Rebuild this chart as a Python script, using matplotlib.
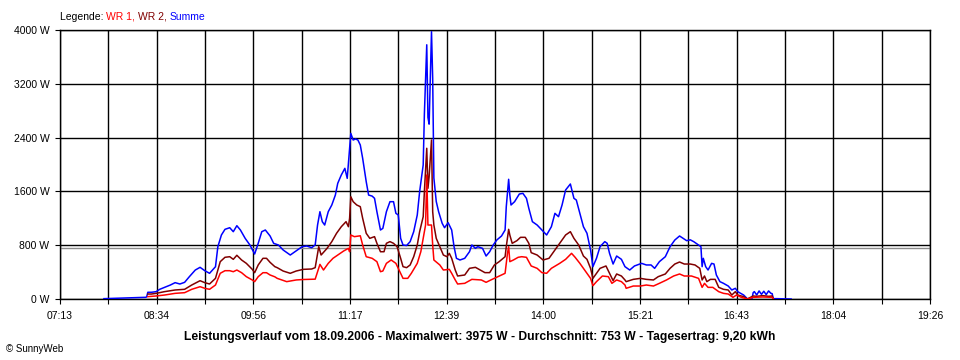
import matplotlib
matplotlib.use("Agg")
import matplotlib.pyplot as plt
import numpy as np

plt.rcParams['font.family'] = ['Liberation Sans', 'DejaVu Sans']

# ---------------- data ----------------
x_start = "07:13"
x_end = "19:26"
x_labels = ["07:13", "08:34", "09:56", "11:17", "12:39", "14:00", "15:21", "16:43", "18:04", "19:26"]
y_ticks = [0, 800, 1600, 2400, 3200, 4000]
average_w = 753

sum_times = [
    "07:50", "07:59", "08:08", "08:16", "08:25", "08:26", "08:27", "08:30", "08:34", "08:37",
    "08:41", "08:46", "08:50", "08:54", "08:58", "09:02", "09:07", "09:11", "09:15", "09:19",
    "09:24", "09:26", "09:29", "09:32", "09:36", "09:39", "09:42", "09:45", "09:49", "09:53",
    "09:57", "10:00", "10:03", "10:06", "10:10", "10:13", "10:17", "10:21", "10:27", "10:31",
    "10:37", "10:41", "10:45", "10:48", "10:50", "10:52", "10:54", "10:56", "10:59", "11:02",
    "11:05", "11:07", "11:10", "11:13", "11:15", "11:16", "11:18", "11:20", "11:22", "11:24",
    "11:26", "11:28", "11:31", "11:33", "11:36", "11:38", "11:40", "11:43", "11:45", "11:48",
    "11:51", "11:54", "11:56", "11:58", "12:00", "12:02", "12:05", "12:08", "12:11", "12:14",
    "12:16", "12:19", "12:20", "12:22", "12:23", "12:24", "12:26", "12:27", "12:28", "12:30",
    "12:32", "12:35", "12:37", "12:40", "12:43", "12:45", "12:47", "12:50", "12:54", "12:58",
    "13:00", "13:03", "13:05", "13:09", "13:12", "13:15", "13:18", "13:21", "13:25", "13:28",
    "13:29", "13:31", "13:32", "13:33", "13:36", "13:40", "13:43", "13:46", "13:48", "13:51",
    "13:55", "13:59", "14:03", "14:07", "14:10", "14:13", "14:16", "14:19", "14:23", "14:26",
    "14:28", "14:31", "14:34", "14:37", "14:40", "14:42", "14:45", "14:48", "14:52", "14:54",
    "14:56", "14:59", "15:02", "15:06", "15:09", "15:13", "15:17", "15:23", "15:27", "15:31",
    "15:34", "15:38", "15:43", "15:47", "15:51", "15:55", "15:58", "16:01", "16:04", "16:07",
    "16:11", "16:13", "16:14", "16:15", "16:17", "16:19", "16:22", "16:24", "16:26", "16:29",
    "16:32", "16:36", "16:39", "16:42", "16:44", "16:49", "16:52", "16:56", "16:57", "16:58",
    "17:00", "17:02", "17:04", "17:06", "17:08", "17:10", "17:12", "17:13", "17:14", "17:17",
    "17:29",
]
summe = [
    5, 10, 15, 20, 25, 30, 100, 100, 109, 144,
    173, 208, 243, 223, 248, 332, 431, 471, 421, 382,
    480, 778, 952, 1036, 1060, 1001, 1090, 1026, 902, 803,
    669, 828, 1001, 1026, 937, 828, 803, 729, 654, 703,
    778, 788, 763, 803, 1100, 1298, 1149, 1100, 1298, 1398,
    1546, 1720, 1844, 1943, 1794, 2017, 2463, 2364, 2380, 2364,
    2290, 2092, 1744, 1546, 1530, 1497, 1298, 1026, 1050, 1298,
    1447, 1447, 1274, 1249, 902, 803, 795, 853, 1001, 1249,
    1596, 1993, 2750, 3780, 2700, 2600, 3975, 3280, 1800, 1450,
    1298, 1125, 1060, 1135, 1026, 778, 605, 580, 605, 703,
    803, 753, 778, 753, 639, 703, 803, 877, 937, 1026,
    1373, 1780, 1546, 1398, 1447, 1561, 1571, 1497, 1348, 1150,
    1100, 1026, 952, 1075, 1274, 1224, 1398, 1621, 1710, 1497,
    1472, 1274, 1075, 977, 729, 481, 605, 778, 853, 828,
    679, 520, 639, 590, 481, 431, 491, 530, 506, 506,
    456, 555, 629, 778, 877, 937, 902, 867, 880, 852,
    803, 778, 481, 605, 481, 431, 530, 520, 357, 258,
    233, 193, 134, 159, 109, 59, 5, 0, 94, 110,
    60, 120, 70, 115, 65, 120, 84, 80, 5, 5,
    0,
]

wr2_times = [
    "08:27", "08:30", "08:34", "08:41", "08:50", "08:58", "09:04", "09:11", "09:15", "09:19",
    "09:24", "09:28", "09:32", "09:36", "09:39", "09:42", "09:46", "09:50", "09:55", "09:57",
    "10:00", "10:04", "10:07", "10:10", "10:14", "10:16", "10:21", "10:27", "10:32", "10:38",
    "10:45", "10:48", "10:51", "10:53", "10:58", "11:02", "11:06", "11:10", "11:14", "11:16",
    "11:17", "11:18", "11:20", "11:23", "11:26", "11:28", "11:31", "11:34", "11:38", "11:40",
    "11:43", "11:46", "11:48", "11:51", "11:54", "11:57", "12:00", "12:02", "12:05", "12:08",
    "12:11", "12:14", "12:16", "12:19", "12:20", "12:22", "12:23", "12:24", "12:26", "12:27",
    "12:28", "12:30", "12:33", "12:36", "12:39", "12:41", "12:43", "12:46", "12:48", "12:54",
    "12:58", "13:03", "13:07", "13:11", "13:15", "13:19", "13:23", "13:28", "13:29", "13:31",
    "13:32", "13:34", "13:38", "13:41", "13:45", "13:48", "13:50", "13:55", "14:00", "14:05",
    "14:09", "14:14", "14:19", "14:23", "14:26", "14:30", "14:34", "14:37", "14:40", "14:42",
    "14:44", "14:48", "14:53", "14:56", "14:59", "15:02", "15:06", "15:09", "15:10", "15:16",
    "15:22", "15:27", "15:33", "15:37", "15:43", "15:47", "15:51", "15:55", "15:59", "16:04",
    "16:08", "16:12", "16:14", "16:16", "16:18", "16:21", "16:25", "16:28", "16:32", "16:36",
    "16:39", "16:42", "16:44", "16:49", "16:52", "16:57", "17:00", "17:05", "17:10", "17:13",
    "17:14",
]
wr2 = [
    74, 74, 84, 109, 134, 144, 208, 272, 243, 223,
    307, 555, 620, 629, 590, 650, 580, 530, 441, 391,
    506, 605, 605, 545, 481, 466, 416, 382, 416, 441,
    446, 466, 778, 654, 753, 853, 977, 1075, 1150, 1075,
    1200, 1521, 1447, 1398, 1373, 1200, 977, 902, 927, 828,
    703, 703, 828, 853, 828, 778, 605, 481, 466, 506,
    629, 803, 1001, 1224, 1596, 2241, 1646, 1819, 2364, 1298,
    1100, 902, 778, 654, 629, 679, 605, 431, 342, 357,
    456, 471, 431, 392, 392, 506, 555, 629, 778, 1036,
    950, 828, 868, 917, 917, 828, 689, 654, 580, 605,
    703, 828, 952, 1001, 902, 803, 639, 590, 456, 307,
    357, 456, 491, 382, 273, 372, 342, 283, 258, 292,
    307, 292, 283, 332, 372, 456, 520, 550, 520, 520,
    506, 456, 283, 342, 258, 292, 292, 173, 144, 134,
    59, 109, 59, 35, 0, 45, 40, 50, 40, 45,
    0,
]

wr1_times = [
    "08:27", "08:34", "08:41", "08:50", "08:58", "09:04", "09:11", "09:15", "09:19", "09:24",
    "09:28", "09:32", "09:36", "09:39", "09:42", "09:46", "09:50", "09:55", "09:57", "10:00",
    "10:04", "10:07", "10:10", "10:14", "10:16", "10:24", "10:32", "10:38", "10:48", "10:50",
    "10:52", "10:55", "10:59", "11:03", "11:07", "11:12", "11:16", "11:17", "11:18", "11:21",
    "11:26", "11:28", "11:31", "11:36", "11:40", "11:43", "11:45", "11:48", "11:52", "11:56",
    "12:00", "12:02", "12:06", "12:09", "12:14", "12:17", "12:19", "12:21", "12:22", "12:23",
    "12:26", "12:27", "12:28", "12:33", "12:36", "12:41", "12:43", "12:46", "12:48", "12:54",
    "13:00", "13:08", "13:12", "13:16", "13:22", "13:28", "13:30", "13:31", "13:32", "13:35",
    "13:39", "13:42", "13:46", "13:50", "13:55", "13:59", "14:03", "14:07", "14:14", "14:19",
    "14:24", "14:27", "14:31", "14:35", "14:40", "14:42", "14:45", "14:50", "14:55", "14:58",
    "15:02", "15:06", "15:09", "15:10", "15:16", "15:22", "15:27", "15:33", "15:38", "15:44",
    "15:50", "15:55", "15:59", "16:05", "16:11", "16:14", "16:16", "16:19", "16:23", "16:28",
    "16:32", "16:36", "16:40", "16:43", "16:47", "16:52", "16:57", "17:05", "17:13", "17:14",
]
wr1 = [
    35, 45, 59, 84, 94, 144, 183, 159, 144, 208,
    382, 421, 421, 406, 431, 391, 332, 283, 258, 332,
    391, 391, 357, 330, 307, 258, 283, 290, 295, 406,
    515, 431, 530, 605, 654, 714, 753, 703, 952, 927,
    940, 803, 629, 605, 555, 406, 416, 530, 580, 530,
    382, 307, 307, 382, 530, 703, 902, 1100, 1844, 1100,
    1100, 803, 580, 506, 431, 441, 382, 283, 223, 233,
    292, 283, 248, 283, 332, 382, 679, 778, 555, 580,
    620, 629, 620, 491, 456, 392, 382, 456, 530, 590,
    679, 620, 530, 431, 307, 198, 258, 342, 332, 233,
    283, 258, 208, 159, 193, 193, 208, 193, 233, 283,
    342, 372, 342, 342, 307, 173, 233, 173, 173, 109,
    84, 74, 25, 59, 25, 0, 25, 30, 25, 0,
]

legend_parts = [("WR 1, ", "#ff0000"), ("WR 2, ", "#800000"), ("Summe", "#0000ff")]
title = ("Leistungsverlauf vom 18.09.2006 - Maximalwert: 3975 W - "
         "Durchschnitt: 753 W - Tagesertrag: 9,20 kWh")


def to_min(s):
    h, m = s.split(":")
    return int(h) * 60 + int(m)


def series(times, values):
    n = min(len(times), len(values))
    return np.array([to_min(t) for t in times[:n]]), np.array(values[:n])


# ---------------- figure ----------------
W, H = 960, 360
fig = plt.figure(figsize=(W / 100, H / 100), dpi=100)
ax = fig.add_axes([60 / W, (H - 299) / H, 870 / W, 269 / H])

t0, t1 = to_min(x_start), to_min(x_end)
ax.set_xlim(t0, t1)
ax.set_ylim(y_ticks[0], y_ticks[-1])

grid_pos = np.linspace(t0, t1, 2 * (len(x_labels) - 1) + 1)
grid_lab = [x_labels[i // 2] if i % 2 == 0 else "" for i in range(len(grid_pos))]
ax.set_xticks(grid_pos)
ax.set_xticklabels(grid_lab)
ax.set_yticks(y_ticks)
ax.set_yticklabels([f"{v} W" for v in y_ticks])

ax.grid(True, color="black", linewidth=1.0, zorder=1)
ax.set_axisbelow(True)
ax.axhline(average_w, color="#8c8c8c", linewidth=1.0, zorder=1.5)

for sp in ax.spines.values():
    sp.set_color("black")
    sp.set_linewidth(1.0)

ax.tick_params(axis="both", direction="out", length=3.6, width=0.8,
               color="black", labelsize=7.5, labelcolor="black")
ax.tick_params(axis="x", pad=5)
ax.tick_params(axis="y", pad=4)

xs, ys = series(sum_times, summe)
ax.plot(xs, ys, color="#0000ff", linewidth=1.1, zorder=3)
xs, ys = series(wr2_times, wr2)
ax.plot(xs, ys, color="#800000", linewidth=1.1, zorder=4)
xs, ys = series(wr1_times, wr1)
ax.plot(xs, ys, color="#ff0000", linewidth=1.1, zorder=5)

# legend line at top
prev = fig.text(60 / W, 1 - 19.5 / H, "Legende: ", fontsize=7.5, color="black",
                ha="left", va="baseline")
for txt, col in legend_parts:
    prev = ax.annotate(txt, xy=(1, 0), xycoords=prev, ha="left", va="bottom",
                       fontsize=7.5, color=col, annotation_clip=False)

fig.text(0.5, 1 - 340 / H, title, fontsize=8.7, fontweight="bold",
         ha="center", va="baseline", color="black")
fig.text(6 / W, 1 - 352 / H, "\u00a9 SunnyWeb", fontsize=7, color="black",
         ha="left", va="baseline")

fig.savefig("out.png", dpi=100)
